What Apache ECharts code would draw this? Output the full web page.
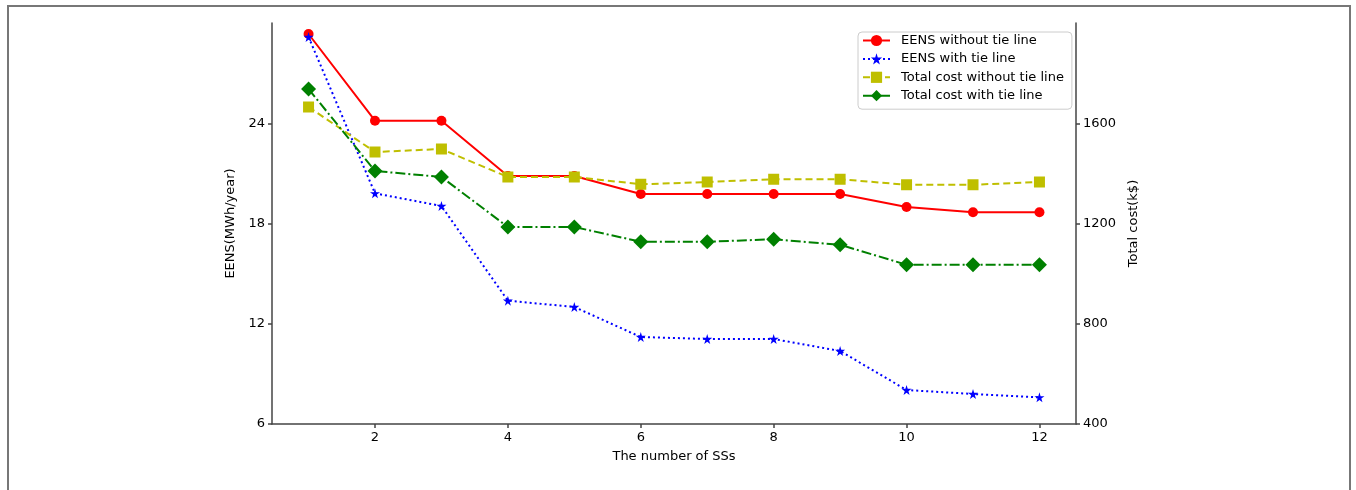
<!DOCTYPE html>
<html>
<head>
<meta charset="utf-8">
<script src="https://cdn.jsdelivr.net/npm/echarts@6/dist/echarts.min.js"></script>
<style>
  html, body { margin: 0; padding: 0; background: #fff; }
  #frame { position: absolute; left: 7px; top: 5px; width: 1344px; height: 490px;
           border-left: 2px solid #777; border-top: 2px solid #777; border-right: 2px solid #777; box-sizing: border-box; }
  #chart { position: absolute; left: 0; top: 0; width: 1356px; height: 490px; }
</style>
</head>
<body>
<div id="frame"></div>
<div id="chart"></div>
<script>
const ssCounts = [1, 2, 3, 4, 5, 6, 7, 8, 9, 10, 11, 12];
const eensWithout = [29.4, 24.2, 24.2, 20.88, 20.88, 19.8, 19.8, 19.8, 19.8, 19.02, 18.7, 18.7];
const eensWith = [29.22, 19.84, 19.08, 13.4, 13.02, 11.22, 11.1, 11.1, 10.38, 8.04, 7.8, 7.6];
const costWithout = [1668, 1488, 1500, 1388, 1388, 1359, 1368, 1379, 1379, 1357, 1357, 1368];
const costWith = [1740, 1412, 1388, 1188, 1188, 1129, 1129, 1139, 1117, 1037, 1037, 1037];
const xTicks = [2, 4, 6, 8, 10, 12];
const leftTicks = [6, 12, 18, 24];
const rightTicks = [400, 800, 1200, 1600];
const seriesNames = ['EENS without tie line', 'EENS with tie line', 'Total cost without tie line', 'Total cost with tie line'];

const pairs = arr => arr.map((v, i) => [ssCounts[i], v]);
const FONT = 'DejaVu Sans';
const STAR = 'path://M50,0 L61,35 L98,35 L68,57 L79,91 L50,70 L21,91 L32,57 L2,35 L39,35 Z';
const axisLineStyle = { color: '#444', width: 1.5 };
const plain = v => String(v);

const chart = echarts.init(document.getElementById('chart'), null, { renderer: 'canvas' });
chart.setOption({
  animation: false,
  backgroundColor: 'transparent',
  textStyle: { fontFamily: FONT },
  grid: { left: 272, right: 280, top: 23, bottom: 66, containLabel: false },
  legend: {
    orient: 'vertical', left: 858, top: 32,
    backgroundColor: '#fff', borderColor: '#ccc', borderWidth: 1, borderRadius: 4,
    padding: [2, 8, 7, 4], itemWidth: 27, itemHeight: 14, itemGap: 5.4,
    textStyle: { fontFamily: FONT, fontSize: 13, color: '#000', padding: [0, 0, 0, 6] },
    data: seriesNames
  },
  xAxis: {
    type: 'value', min: 0.45, max: 12.55,
    name: 'The number of SSs', nameLocation: 'middle', nameGap: 26,
    nameTextStyle: { fontFamily: FONT, fontSize: 13, color: '#000' },
    axisLine: { show: true, lineStyle: axisLineStyle },
    axisTick: { show: true, length: 4, inside: false, customValues: xTicks, lineStyle: axisLineStyle },
    axisLabel: { customValues: xTicks, formatter: plain, fontFamily: FONT, fontSize: 13, color: '#000', margin: 7 },
    splitLine: { show: false }
  },
  yAxis: [
    {
      type: 'value', min: 6, max: 30.06, position: 'left',
      name: 'EENS(MWh/year)', nameLocation: 'middle', nameGap: 31, nameRotate: 90,
      nameTextStyle: { fontFamily: FONT, fontSize: 13, color: '#000' },
      axisLine: { show: true, lineStyle: axisLineStyle },
      axisTick: { show: true, length: 4, customValues: leftTicks, lineStyle: axisLineStyle },
      axisLabel: { customValues: leftTicks, formatter: plain, fontFamily: FONT, fontSize: 13, color: '#000', margin: 7 },
      splitLine: { show: false }
    },
    {
      type: 'value', min: 400, max: 2004, position: 'right',
      name: 'Total cost(k$)', nameLocation: 'middle', nameGap: 42, nameRotate: 90,
      nameTextStyle: { fontFamily: FONT, fontSize: 13, color: '#000' },
      axisLine: { show: true, lineStyle: axisLineStyle },
      axisTick: { show: true, length: 4, customValues: rightTicks, lineStyle: axisLineStyle },
      axisLabel: { customValues: rightTicks, formatter: plain, fontFamily: FONT, fontSize: 13, color: '#000', margin: 7 },
      splitLine: { show: false }
    }
  ],
  series: [
    {
      name: seriesNames[0], type: 'line', yAxisIndex: 0, data: pairs(eensWithout),
      symbol: 'circle', symbolSize: 10,
      lineStyle: { color: '#ff0000', width: 2, type: 'solid' },
      itemStyle: { color: '#ff0000' }, z: 2
    },
    {
      name: seriesNames[1], type: 'line', yAxisIndex: 0, data: pairs(eensWith),
      symbol: STAR, symbolSize: 10,
      lineStyle: { color: '#0000ff', width: 2, type: [2, 3] },
      itemStyle: { color: '#0000ff' }, z: 3
    },
    {
      name: seriesNames[2], type: 'line', yAxisIndex: 1, data: pairs(costWithout),
      symbol: 'rect', symbolSize: 11,
      lineStyle: { color: '#bfbf00', width: 2, type: [7, 4] },
      itemStyle: { color: '#bfbf00' }, z: 4
    },
    {
      name: seriesNames[3], type: 'line', yAxisIndex: 1, data: pairs(costWith),
      symbol: 'diamond', symbolSize: 15,
      lineStyle: { color: '#008000', width: 2, type: [10, 3, 2, 3] },
      itemStyle: { color: '#008000' }, z: 5
    }
  ]
});
</script>
</body>
</html>
